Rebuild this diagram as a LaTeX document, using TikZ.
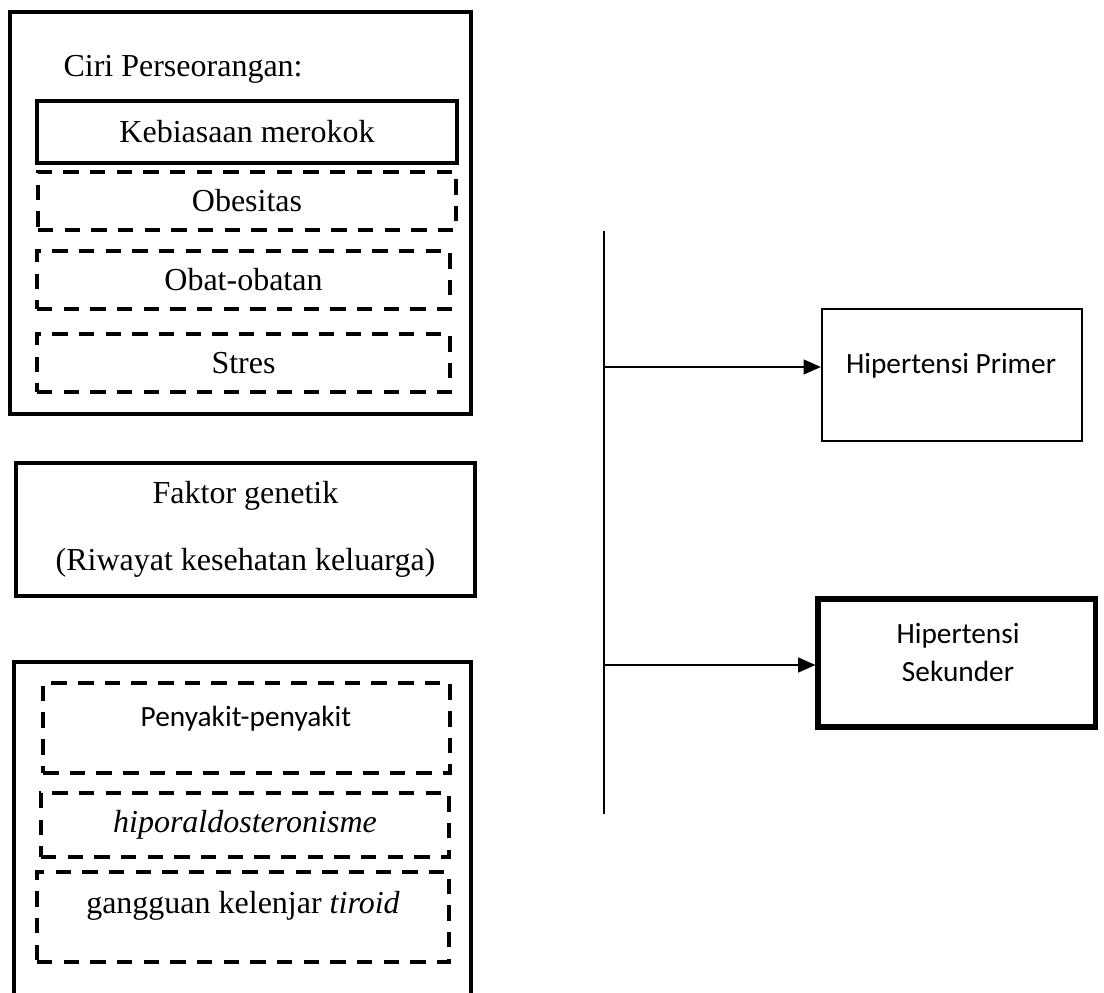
\documentclass[tikz,border=0pt]{standalone}
\usepackage{fontspec}
\setmainfont{Liberation Serif}
\newfontfamily\calibri{Carlito}
\usetikzlibrary{arrows.meta}

\begin{document}
\begin{tikzpicture}[x=0.375pt,y=-0.375pt,
  solidbox/.style={draw,line width=1.4pt,inner sep=0pt,font=\fontsize{12}{14}\selectfont},
  dashbox/.style={draw,line width=1.4pt,dash pattern=on 5.8pt off 4.2pt,inner sep=0pt,font=\fontsize{12}{14}\selectfont},
  txt/.style={inner sep=0pt,font=\fontsize{12}{14}\selectfont},
  sanstxt/.style={inner sep=0pt,font=\calibri\fontsize{11}{14.6}\selectfont,align=center},
  arr/.style={line width=0.6pt,-{Triangle[length=6.5pt,width=5.6pt]}}]
\useasboundingbox (0,0) rectangle (1104,993);
\clip (0,0) rectangle (1104,993);
\node (ciri) at (240.5,213) [solidbox,minimum width=172.9pt,minimum height=150.75pt] {};
\node (ciritext) at (63,77) [txt,anchor=base west] {Ciri Perseorangan:};
\node (rokok) at (247,132) [solidbox,minimum width=157.5pt,minimum height=23.25pt] {Kebiasaan merokok};
\node (obesitas) at (247,201) [dashbox,minimum width=156.75pt,minimum height=21.75pt] {Obesitas};
\node (obat) at (243.5,280) [dashbox,minimum width=154.9pt,minimum height=21.75pt] {Obat-obatan};
\node (stres) at (243.5,363) [dashbox,minimum width=154.9pt,minimum height=21.75pt] {Stres};
\node (genetik) at (245.5,529.5) [solidbox,minimum width=172.1pt,minimum height=49.9pt,align=center,font=\fontsize{12}{25.1}\selectfont] {Faktor genetik\\(Riwayat kesehatan keluarga)};
\node (lainnya) at (242.5,836) [solidbox,minimum width=171.4pt,minimum height=130.5pt] {};
\node (penyakitbox) at (246.5,728) [dashbox,minimum width=152.6pt,minimum height=33.75pt] {};
\node (penyakit) at (246,719) [sanstxt] {Penyakit-penyakit};
\node (hipo) at (245,825) [dashbox,minimum width=153pt,minimum height=24pt] {\textit{hiporaldosteronisme}};
\node (tiroidbox) at (243,917) [dashbox,minimum width=154.5pt,minimum height=33.75pt] {};
\node (tiroid) at (243,906) [txt] {gangguan kelenjar \textit{tiroid}};
\node (primer) at (952,375) [draw,line width=0.85pt,inner sep=0pt,minimum width=97.5pt,minimum height=49.5pt] {};
\node (primertext) at (951,366) [sanstxt] {Hipertensi Primer};
\node (sekunder) at (956.5,663) [draw,line width=1.9pt,inner sep=0pt,minimum width=103.9pt,minimum height=48pt] {};
\node (sekundertext) at (958,652.5) [sanstxt] {Hipertensi\\Sekunder};
\coordinate (vtop) at (604,231);
\coordinate (vbot) at (604,814);
\coordinate (j1) at (604,367);
\coordinate (j2) at (604,665);
\draw[line width=0.6pt] (vtop) -- (vbot);
\draw[arr] (j1) -- (j1 -| primer.west);
\draw[arr] (j2) -- (j2 -| sekunder.west);
\end{tikzpicture}
\end{document}
